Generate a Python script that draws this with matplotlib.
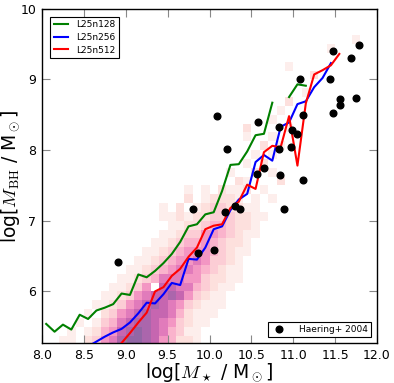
import numpy as np
import matplotlib
matplotlib.use("Agg")
import matplotlib.pyplot as plt

plt.rcParams['mathtext.fontset'] = 'cm'
plt.rcParams['font.family'] = ['DejaVu Sans']

# --- 2D histogram of simulated galaxies (levels 0-9), rows from top (y=10) down ---
hist_x_edges_start, hist_x_step, hist_nx = 8.0, 0.1, 40
hist_y_edges_top, hist_y_step = 10.0, 0.125
hist_rows = [
    "........................................",
    "........................................",
    "........................................",
    ".....................................1..",
    "..................................1.....",
    "........................................",
    ".............................1..........",
    "................................2.......",
    "........................................",
    "...............................1........",
    ".............................2..........",
    "............................1...........",
    "...........................1............",
    "........................2....1..........",
    "........................1..1............",
    "..........................2.1...........",
    ".........................1.1............",
    "........................1.2.............",
    "......................1..2.1............",
    ".......................21...2...........",
    ".................1.1.2112.1.............",
    ".................2.12221.1.1............",
    "..............1.2.12332211..............",
    "..............1121223332211.............",
    "...............11223443221..............",
    "..............112335543211..............",
    ".............112344543221...............",
    "............1123455543211...............",
    "...........1123455653321................",
    "..........11234566543211................",
    ".........112346665532211................",
    "........11235.776643211.................",
    ".......112356778753211..................",
    "......1123567876532111..................",
    ".....1.23567877642111...................",
    "....1.13467887653211....................",
    "...1.12457898764311.....................",
    "..11.23568998754221.....................",
]

# --- median relations ---
green_x = [8.05, 8.15, 8.25, 8.35, 8.45, 8.55, 8.65, 8.75, 8.85, 8.95, 9.05, 9.15,
           9.25, 9.35, 9.45, 9.55, 9.65, 9.75, 9.85, 9.95, 10.05, 10.15, 10.25,
           10.35, 10.45, 10.55, 10.65, 10.75, 10.85, 10.95, 11.05, 11.15]
green_y = [5.54, 5.43, 5.53, 5.46, 5.67, 5.61, 5.73, 5.77, 5.82, 5.97, 5.95, 6.24,
           6.20, 6.29, 6.40, 6.53, 6.70, 6.92, 6.95, 7.09, 7.12, 7.42, 7.79,
           7.80, 7.98, 8.21, 8.23, 8.67, np.nan, 8.75, 8.93, 8.91]

blue_x = [8.55, 8.65, 8.75, 8.85, 8.95, 9.05, 9.15, 9.25, 9.35, 9.45, 9.55, 9.65,
          9.75, 9.85, 9.95, 10.05, 10.15, 10.25, 10.35, 10.45, 10.55, 10.65,
          10.75, 10.85, 10.95, 11.05, 11.15, 11.25, 11.35, 11.45]
blue_y = [5.22, 5.29, 5.36, 5.42, 5.47, 5.56, 5.69, 5.84, 5.83, 5.96, 6.12, 6.09,
          6.46, 6.45, 6.62, 6.88, 6.92, 7.15, 7.30, 7.38, 7.83, 7.93,
          7.85, 8.33, 8.39, 8.65, 8.69, 8.89, 9.02, 9.23]

red_x = [8.85, 8.95, 9.05, 9.15, 9.25, 9.35, 9.45, 9.55, 9.65, 9.75, 9.85, 9.95,
         10.05, 10.15, 10.25, 10.35, 10.45, 10.55, 10.65, 10.75, 10.85, 10.95,
         11.05, 11.15, 11.25, 11.35, 11.45, 11.55]
red_y = [5.10, 5.27, 5.41, 5.56, 5.70, 6.00, 6.06, 6.22, 6.32, 6.49, 6.62, 6.88,
         6.93, 6.95, 7.18, 7.27, 7.51, 7.45, 7.97, 8.06, 8.04, 8.48,
         7.78, 8.66, 9.07, 9.13, 9.20, 9.36]

# --- Haering & Rix 2004 observations ---
haering_x = [8.91, 9.80, 9.86, 10.05, 10.19, 10.30, 10.36, 10.89, 10.09, 10.21,
             10.58, 10.57, 10.65, 10.84, 11.12, 10.83, 10.99, 11.04, 11.12, 10.97,
             10.83, 11.08, 11.44, 11.47, 11.69, 11.78, 11.56, 11.56, 11.75, 11.47]
haering_y = [6.41, 7.16, 6.55, 6.58, 7.12, 7.21, 7.16, 7.16, 8.48, 8.01,
             8.39, 7.66, 7.75, 7.65, 7.58, 8.33, 8.29, 8.23, 8.49, 8.05,
             8.01, 9.00, 9.00, 9.40, 9.30, 9.48, 8.72, 8.64, 8.73, 8.52]

fig = plt.figure(figsize=(3.94, 3.83), dpi=100)
ax = fig.add_axes([42/394, 1 - 343/383, 335/394, (343 - 8.7)/383])

grid = np.array([[0 if ch == '.' else int(ch) for ch in row] for row in hist_rows], float)
nrow = grid.shape[0]
xe = hist_x_edges_start + hist_x_step * np.arange(hist_nx + 1)
ye = hist_y_edges_top - hist_y_step * np.arange(nrow + 1)
ax.pcolormesh(xe, ye, np.ma.masked_equal(grid, 0), cmap='RdPu', vmin=0, vmax=9,
              alpha=0.6, shading='flat', edgecolors='none', zorder=1)

ax.plot(green_x, green_y, color='green', lw=1.5, label='L25n128', zorder=3)
ax.plot(blue_x, blue_y, color='blue', lw=1.5, label='L25n256', zorder=3)
ax.plot(red_x, red_y, color='red', lw=1.5, label='L25n512', zorder=3)
pts, = ax.plot(haering_x, haering_y, 'o', color='black', ms=4.8, zorder=4,
               label='Haering+ 2004')

ax.set_xlim(8.0, 12.0)
ax.set_ylim(5.27, 10.0)
ax.set_xticks(np.arange(8.0, 12.01, 0.5))
ax.set_xticklabels(['%.1f' % v for v in np.arange(8.0, 12.01, 0.5)])
ax.set_yticks([6, 7, 8, 9, 10])
ax.tick_params(direction='in', top=True, right=True, length=6, width=0.8,
               color='#888888', labelsize=9, pad=4)
for s in ax.spines.values():
    s.set_linewidth(1.0)

ax.set_xlabel(r'log[$M_\star$ / M$_\odot$]', fontsize=13.5, labelpad=0)
ax.set_ylabel(r'log[$M_{\rm BH}$ / M$_\odot$]', fontsize=13.5, labelpad=-1)

lines = ax.get_lines()[:3]
leg1 = ax.legend(handles=lines, loc='upper left', fontsize=6.5, fancybox=False,
                 edgecolor='black', framealpha=1, handlelength=1.6,
                 borderaxespad=0.9, handletextpad=0.9, labelspacing=0.4)
leg1.get_frame().set_linewidth(0.8)
ax.add_artist(leg1)
leg2 = ax.legend(handles=[pts], loc='lower right', fontsize=6.5, fancybox=False,
                 edgecolor='black', framealpha=1, numpoints=1,
                 borderaxespad=0.7, handletextpad=1.2, borderpad=0.3)
leg2.get_frame().set_linewidth(0.8)

fig.savefig('out.png', dpi=100)
